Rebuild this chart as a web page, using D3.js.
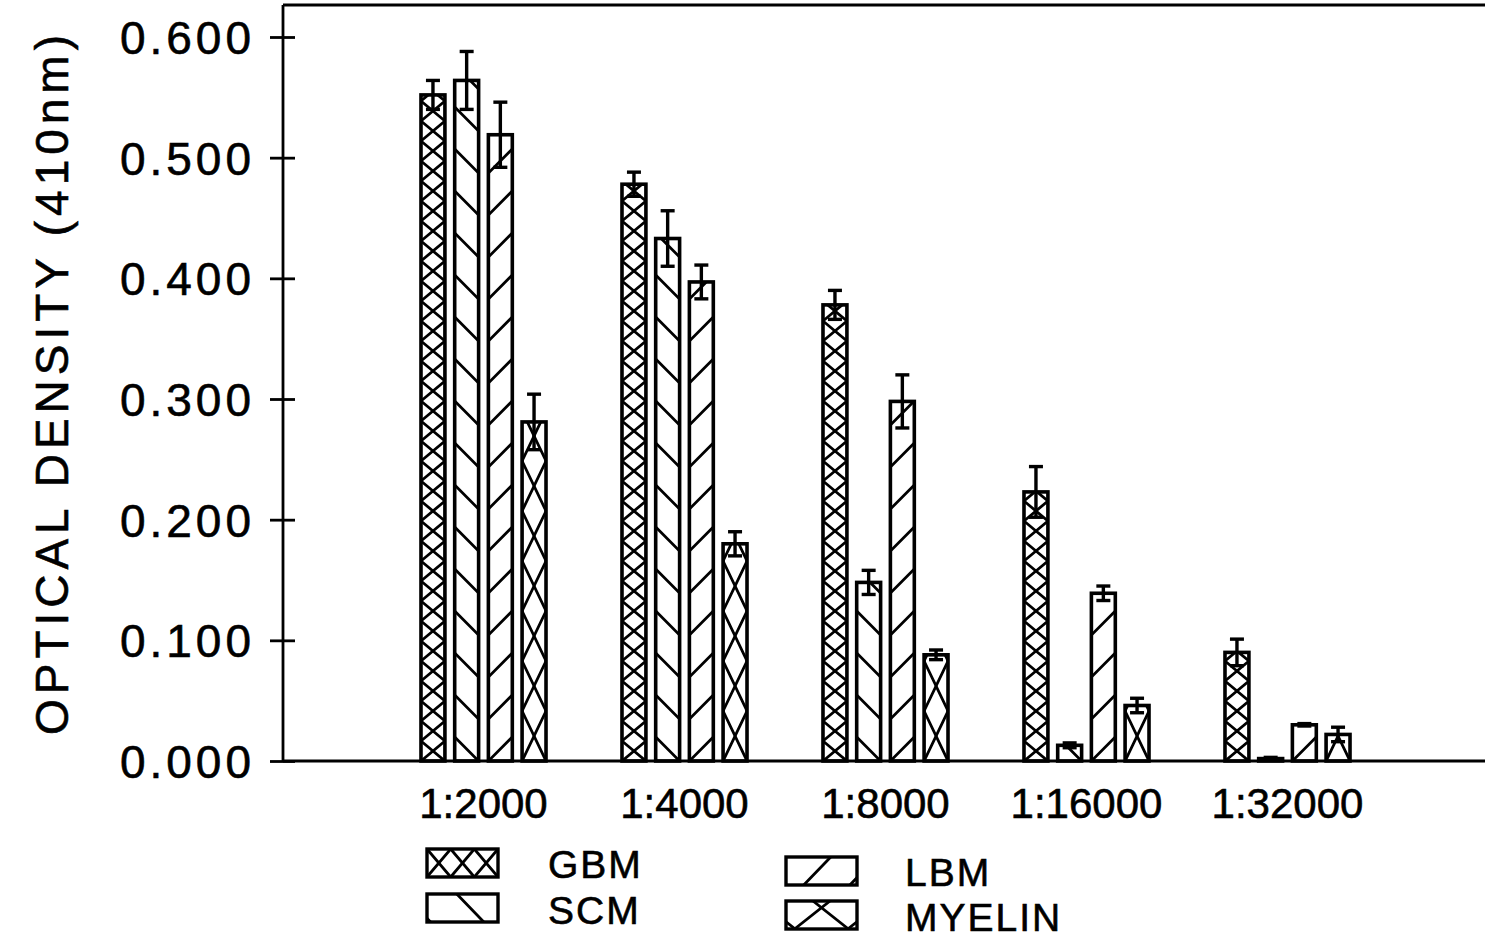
<!DOCTYPE html>
<html>
<head>
<meta charset="utf-8">
<script src="https://cdn.jsdelivr.net/npm/d3@7"></script>
<style>
  html, body { margin: 0; padding: 0; background: #fff; }
  svg { display: block; }
  text { font-family: "Liberation Sans", Arial, Helvetica, sans-serif; fill: #000; stroke: #000; stroke-width: 0.6px; }
</style>
</head>
<body>
<svg id="chart" width="1485" height="940"></svg>
<script>
// Dilutions on the x axis
const categories = ["1:2000", "1:4000", "1:8000", "1:16000", "1:32000"];
// Series names, in bar order within each dilution group
const seriesNames = ["GBM", "SCM", "LBM", "MYELIN"];
// Mean optical density at 410 nm
const GBM    = [0.552, 0.478, 0.378, 0.223, 0.090];
const SCM    = [0.564, 0.433, 0.148, 0.013, 0.002];
const LBM    = [0.519, 0.397, 0.298, 0.139, 0.030];
const MYELIN = [0.281, 0.180, 0.088, 0.046, 0.022];
// Error (+/-) for each mean
const GBM_err    = [0.012, 0.010, 0.012, 0.021, 0.011];
const SCM_err    = [0.024, 0.023, 0.010, 0.002, 0.001];
const LBM_err    = [0.027, 0.014, 0.022, 0.006, 0.001];
const MYELIN_err = [0.023, 0.010, 0.004, 0.006, 0.006];
// Y axis ticks
const yTicks = [0, 0.1, 0.2, 0.3, 0.4, 0.5, 0.6];

const values = { GBM, SCM, LBM, MYELIN };
const errors = { GBM: GBM_err, SCM: SCM_err, LBM: LBM_err, MYELIN: MYELIN_err };

const svg = d3.select("#chart");
const axisX = 283, frameTop = 5, rightEdge = 1485;

const y = d3.scaleLinear().domain([0, 0.6]).range([761, 37]);
const x0 = d3.scaleBand().domain(categories).range([383, 1388])
  .paddingInner(0.378).paddingOuter(0.189);
const x1 = d3.scaleBand().domain(seriesNames).range([0, x0.bandwidth()])
  .paddingInner(0.29).paddingOuter(0);

const ink = "#000";
const defs = svg.append("defs");
let clipId = 0;

// Hatch lines for a bar, anchored at the bar's base
function barHatch(kind, xa, xb, yt, yb) {
  const lines = [];
  if (kind === "GBM" || kind === "MYELIN") {
    const h = kind === "GBM" ? 20 : 50;
    for (let k = 0; yb - k * h > yt - h; k++) {
      const ylo = yb - k * h, yhi = yb - (k + 1) * h;
      lines.push([xa, ylo, xb, yhi]);
      lines.push([xa, yhi, xb, ylo]);
    }
  } else {
    const s = 42, r = 24;
    for (let k = 0; yb - k * s > yt - r; k++) {
      const ylo = yb - k * s;
      if (kind === "SCM") lines.push([xa, ylo - r, xb, ylo]);
      else lines.push([xa, ylo, xb, ylo - r]);
    }
  }
  return lines;
}

// Hatch lines for a legend swatch
function legendHatch(kind, xa, xb, yt, yb) {
  const w = xb - xa, lines = [];
  if (kind === "GBM") {
    const cw = w / 3;
    for (let k = 0; k < 3; k++) {
      lines.push([xa + k * cw, yb, xa + (k + 1) * cw, yt]);
      lines.push([xa + k * cw, yt, xa + (k + 1) * cw, yb]);
    }
  } else if (kind === "SCM") {
    const p = 0.75 * w;
    for (let k = -1; k <= 1; k++) {
      const xt = xa + 0.42 * w + k * p;
      lines.push([xt, yt, xt + 0.38 * w, yb]);
    }
  } else if (kind === "LBM") {
    const p = 0.65 * w;
    for (let k = -1; k <= 1; k++) {
      const xbm = xa + 0.25 * w + k * p;
      lines.push([xbm, yb, xbm + 0.38 * w, yt]);
    }
  } else {
    const p = 0.75 * w;
    for (let k = -1; k <= 1; k++) {
      lines.push([xa + 0.12 * w + k * p, yb, xa + 0.62 * w + k * p, yt]);
      lines.push([xa + 0.38 * w + k * p, yt, xa + 0.88 * w + k * p, yb]);
    }
  }
  return lines;
}

function hatchedRect(g, kind, xa, xb, yt, yb, lineFn, sw) {
  const id = "clip" + (clipId++);
  defs.append("clipPath").attr("id", id)
    .append("rect").attr("x", xa).attr("y", yt)
    .attr("width", xb - xa).attr("height", Math.max(0, yb - yt));
  g.append("g").attr("clip-path", `url(#${id})`)
    .selectAll("line").data(lineFn(kind, xa, xb, yt, yb)).join("line")
    .attr("x1", d => d[0]).attr("y1", d => d[1])
    .attr("x2", d => d[2]).attr("y2", d => d[3])
    .attr("stroke", ink).attr("stroke-width", 2.8).attr("stroke-linecap", "round");
  g.append("rect").attr("x", xa).attr("y", yt)
    .attr("width", xb - xa).attr("height", Math.max(0, yb - yt))
    .attr("fill", "none").attr("stroke", ink).attr("stroke-width", sw);
}

// Frame: top line
svg.append("line").attr("x1", axisX).attr("x2", rightEdge)
  .attr("y1", frameTop).attr("y2", frameTop)
  .attr("stroke", ink).attr("stroke-width", 2.8);

// Bars
const barsG = svg.append("g");
categories.forEach((c, i) => {
  seriesNames.forEach(s => {
    const v = values[s][i];
    const xa = x0(c) + x1(s), xb = xa + x1.bandwidth();
    hatchedRect(barsG, s, xa, xb, y(v), y(0), barHatch, 3.6);
  });
});

// Error bars
const errG = svg.append("g").attr("stroke", ink).attr("stroke-width", 3.4);
categories.forEach((c, i) => {
  seriesNames.forEach(s => {
    const v = values[s][i], e = errors[s][i];
    const cx = x0(c) + x1(s) + x1.bandwidth() / 2;
    const yHi = y(v + e), yLo = Math.min(y(v - e), y(0));
    errG.append("line").attr("x1", cx).attr("x2", cx).attr("y1", yHi).attr("y2", yLo);
    errG.append("line").attr("x1", cx - 7).attr("x2", cx + 7).attr("y1", yHi).attr("y2", yHi);
    errG.append("line").attr("x1", cx - 7).attr("x2", cx + 7).attr("y1", yLo).attr("y2", yLo);
  });
});

// Baseline
svg.append("line").attr("x1", axisX).attr("x2", rightEdge)
  .attr("y1", y(0)).attr("y2", y(0))
  .attr("stroke", ink).attr("stroke-width", 2.8);

// Y axis with ticks crossing the axis line
const yAxis = svg.append("g").attr("transform", `translate(${axisX},0)`)
  .call(d3.axisLeft(y).tickValues(yTicks).tickFormat(d3.format(".3f"))
    .tickSizeInner(13).tickSizeOuter(0).tickPadding(15));
yAxis.select(".domain").attr("d", `M0,${frameTop}V${y(0)}`)
  .attr("stroke", ink).attr("stroke-width", 2.8);
yAxis.selectAll(".tick line").attr("stroke", ink).attr("stroke-width", 2.8);
yAxis.selectAll(".tick").append("line").attr("x1", 0).attr("x2", 12)
  .attr("stroke", ink).attr("stroke-width", 2.8);
yAxis.selectAll(".tick text")
  .attr("font-size", 46).attr("letter-spacing", 4).attr("dy", "0.36em")
  .attr("font-family", "'Liberation Sans', Arial, sans-serif").attr("fill", ink);

// Y axis title
svg.append("text")
  .attr("transform", "translate(68,385) rotate(-90)")
  .attr("text-anchor", "middle").attr("font-size", 46)
  .attr("textLength", 700).attr("lengthAdjust", "spacing")
  .text("OPTICAL DENSITY (410nm)");

// X category labels
svg.append("g").selectAll("text").data(categories).join("text")
  .attr("x", d => x0(d) + x0.bandwidth() / 2).attr("y", 818)
  .attr("text-anchor", "middle").attr("font-size", 42)
  .text(d => d);

// Legend
const legendItems = [
  { name: "GBM",    bx: 427, by: 849, tx: 548, ty: 878 },
  { name: "SCM",    bx: 427, by: 894, tx: 548, ty: 924 },
  { name: "LBM",    bx: 786, by: 857, tx: 905, ty: 886 },
  { name: "MYELIN", bx: 786, by: 901, tx: 905, ty: 931 }
];
const legG = svg.append("g");
legendItems.forEach(d => {
  hatchedRect(legG, d.name, d.bx, d.bx + 71, d.by, d.by + 28, legendHatch, 3.4);
  legG.append("text").attr("x", d.tx).attr("y", d.ty)
    .attr("font-size", 39).attr("letter-spacing", 2).text(d.name);
});
</script>
</body>
</html>
